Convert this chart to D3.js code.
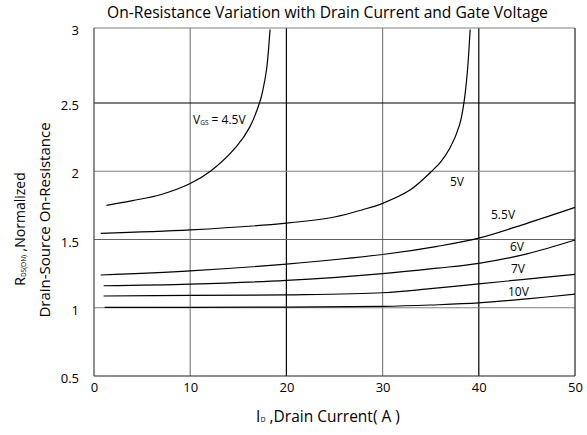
<!DOCTYPE html>
<html><head><meta charset="utf-8">
<script src="https://cdn.jsdelivr.net/npm/d3@7"></script>
<style>
body{margin:0;background:#fff;}
text{font-family:"Open Sans",sans-serif;fill:#000;}
</style></head>
<body><svg id="c" width="587" height="435"></svg>
<script>
const xTicks = [0,10,20,30,40,50];
const yTicks = [0.5,1,1.5,2,2.5,3];
const seriesNames = ["4.5V","5V","5.5V","6V","7V","10V"];
const x45 = [1.3, 4, 6.9, 10, 12.1, 14.8, 16.2, 17.3, 17.6, 17.95, 18.3];
const y45 = [1.75, 1.785, 1.828, 1.91, 2.0, 2.18, 2.325, 2.52, 2.6, 2.73, 2.99];
const x5 = [0.7, 10, 20, 25, 28, 30, 32.85, 35.1, 36, 37, 38, 38.45, 38.8, 39.1];
const y5 = [1.545, 1.57, 1.62, 1.665, 1.72, 1.765, 1.862, 2.0, 2.065, 2.17, 2.34, 2.5, 2.7, 2.99];
const x55 = [0.7, 10, 20, 30, 35.7, 40, 45, 50];
const y55 = [1.24, 1.27, 1.32, 1.39, 1.45, 1.51, 1.618, 1.735];
const x6 = [1, 10, 20, 30, 35.7, 40, 45, 50];
const y6 = [1.161, 1.173, 1.2, 1.25, 1.29, 1.325, 1.395, 1.496];
const x7 = [1, 10, 20, 30, 35, 40, 45, 50];
const y7 = [1.086, 1.091, 1.095, 1.11, 1.14, 1.175, 1.21, 1.245];
const x10 = [1.1, 10, 20, 30, 35, 40, 45, 50];
const y10 = [1.003, 1.003, 1.005, 1.01, 1.02, 1.035, 1.065, 1.1];
const seriesX = [x45, x5, x55, x6, x7, x10];
const seriesY = [y45, y5, y55, y6, y7, y10];

const svg = d3.select("#c");
const L=94, R=575, T=28, B=376;
const x = d3.scaleLinear().domain([0,50]).range([L,R]);
const y = d3.scaleLinear().domain([0.5,2.5,3]).range([B,103,T]);

// grid
const vColors = {10:"#808080",20:"#000",30:"#808080",40:"#000"};
const hColors = {1:"#808080",1.5:"#606060",2:"#808080",2.5:"#000"};
svg.append("g").selectAll("line").data(xTicks.filter(d=>d>0&&d<50)).join("line")
  .attr("x1",d=>x(d)).attr("x2",d=>x(d)).attr("y1",T).attr("y2",B)
  .attr("stroke",d=>vColors[d]).attr("stroke-width",1.2);
svg.append("g").selectAll("line").data(yTicks.filter(d=>d>0.5&&d<3)).join("line")
  .attr("x1",L).attr("x2",R).attr("y1",d=>y(d)).attr("y2",d=>y(d))
  .attr("stroke",d=>hColors[d]).attr("stroke-width",1.2);
// frame
svg.append("line").attr("x1",L).attr("x2",R).attr("y1",T).attr("y2",T).attr("stroke","#808080").attr("stroke-width",1.2);
svg.append("line").attr("x1",L).attr("x2",R).attr("y1",B).attr("y2",B).attr("stroke","#222").attr("stroke-width",1.2);
svg.append("line").attr("x1",L).attr("x2",L).attr("y1",T).attr("y2",B).attr("stroke","#444").attr("stroke-width",1.2);
svg.append("line").attr("x1",R).attr("x2",R).attr("y1",T).attr("y2",B).attr("stroke","#222").attr("stroke-width",1.2);

// axes labels via d3 axes
const ax = svg.append("g").attr("transform",`translate(0,${B})`)
  .call(d3.axisBottom(x).tickValues(xTicks).tickSize(0).tickPadding(7).tickFormat(d3.format("d")));
ax.select(".domain").remove();
ax.selectAll("text").style("font-size","13px").style("font-family","'Open Sans',sans-serif");
const ay = svg.append("g").attr("transform",`translate(${L},0)`)
  .call(d3.axisLeft(y).tickValues(yTicks).tickSize(0).tickPadding(15).tickFormat(d=>String(d)));
ay.select(".domain").remove();
ay.selectAll("text").style("font-size","13px").style("font-family","'Open Sans',sans-serif").attr("dy","0.5em");

// curves
const line = d3.line().x(d=>x(d[0])).y(d=>y(d[1])).curve(d3.curveCatmullRom.alpha(0.5));
seriesX.forEach((xs,i)=>{
  const pts = xs.map((v,j)=>[v, seriesY[i][j]]);
  svg.append("path").datum(pts).attr("d",line).attr("fill","none")
    .attr("stroke","#000").attr("stroke-width",1.2);
});

// series labels
const lab = svg.append("g").style("font-size","12px");
const v45 = lab.append("text").attr("x",193).attr("y",124);
v45.append("tspan").text("V");
v45.append("tspan").text("GS").style("font-size","6.5px").attr("dy","1");
v45.append("tspan").text(" = 4.5V").attr("dy","-1");
const labs = [["5V",450,186],["5.5V",491,219],["6V",510,251],["7V",511,273],["10V",508,296]];
labs.forEach(l=>lab.append("text").attr("x",l[1]).attr("y",l[2]).text(l[0]));

// title
svg.append("text").attr("x",327.5).attr("y",18).attr("text-anchor","middle")
  .style("font-size","15.6px").text("On-Resistance Variation with Drain Current and Gate Voltage");

// x label
const xl = svg.append("text").attr("x",328).attr("y",422).attr("text-anchor","middle").style("font-size","15.5px");
xl.append("tspan").text("I");
xl.append("tspan").text("D").style("font-size","7px");
xl.append("tspan").text(" ,Drain Current( A )");

// y label
const yl1 = svg.append("text").attr("transform","translate(25,229) rotate(-90)").attr("text-anchor","middle").style("font-size","14px");
yl1.append("tspan").text("R");
yl1.append("tspan").text("DS(ON)").style("font-size","6.5px").attr("dy","1");
yl1.append("tspan").text(" ,Normalized").attr("dy","-1");
svg.append("text").attr("transform","translate(50,220) rotate(-90)").attr("text-anchor","middle").style("font-size","15px")
  .text("Drain-Source On-Resistance");
</script></body></html>
